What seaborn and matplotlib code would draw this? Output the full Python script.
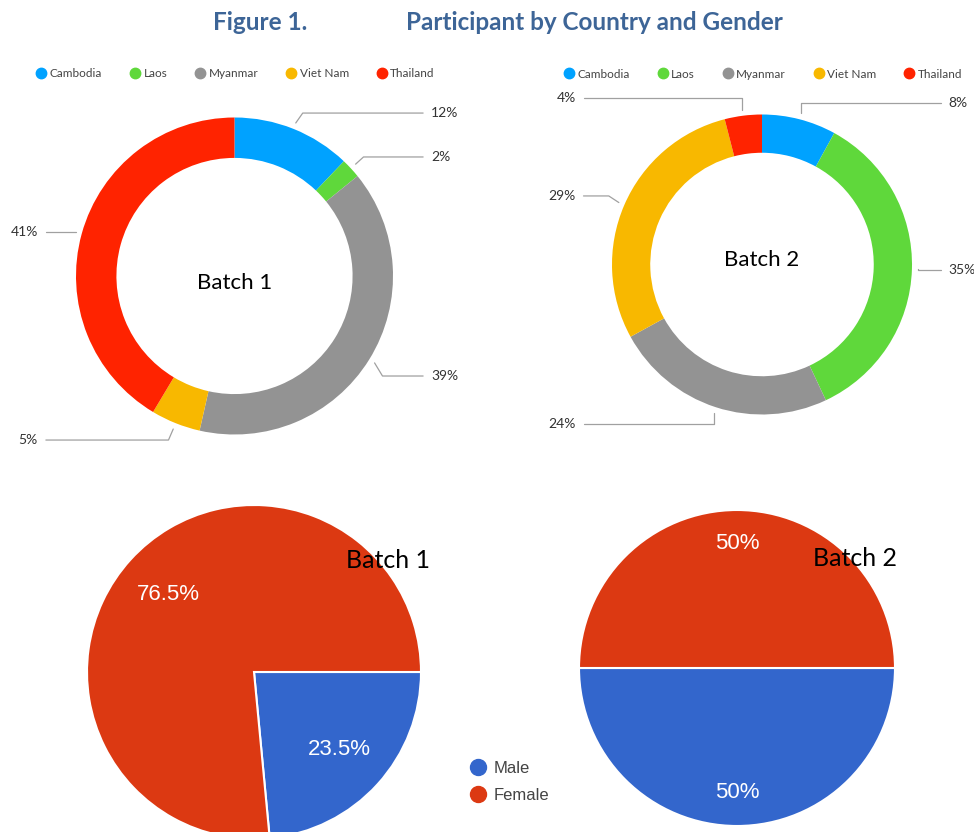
import numpy as np
import matplotlib.pyplot as plt
import seaborn as sns
from matplotlib.lines import Line2D

# data
countries = ['Cambodia', 'Laos', 'Myanmar', 'Viet Nam', 'Thailand']
batch1_country = [12, 2, 39, 5, 41]
batch2_country = [8, 35, 24, 29, 4]
country_colors = ['#00a2ff', '#5fd83b', '#939393', '#f8b800', '#ff2300']

genders = ['Male', 'Female']
batch1_gender = [23.5, 76.5]
batch2_gender = [50, 50]
gender_colors = ['#3366cc', '#dc3912']

# leader-line layout for the donut labels (data units, radius = 1)
b1_label_y = [1.028, 0.751, -0.631, -1.035, 0.278]
b1_elbow_dx = [0.044, 0.05, 0.05, -0.03, 0.0]
b1_side = [1, 1, 1, -1, -1]
b2_label_y = [1.077, -0.037, -1.063, 0.457, 1.11]
b2_elbow_dx = [0.0, 0.0, 0.0, -0.067, 0.0]
b2_side = [1, 1, -1, -1, -1]

sns.set_theme(style='white')
plt.rcParams['font.family'] = ['Lato', 'DejaVu Sans']

W, H = 974, 832
SPAN = 1.6
fig = plt.figure(figsize=(W / 100, H / 100), dpi=100)


def chart_ax(cx, cy, r):
    # square axes centred at pixel (cx, cy) where 1 data unit = r pixels
    size = 2 * SPAN * r
    return fig.add_axes([(cx - SPAN * r) / W, 1 - (cy + SPAN * r) / H, size / W, size / H])


def finish(ax):
    ax.set_xlim(-SPAN, SPAN)
    ax.set_ylim(-SPAN, SPAN)
    ax.set_aspect('equal')
    ax.axis('off')


def donut(ax, values, name, name_y, label_y, elbow_dx, side, legend_y):
    wedges, _ = ax.pie(values, colors=country_colors, startangle=90, counterclock=False,
                       radius=1, wedgeprops=dict(width=0.255, linewidth=0))
    for w, pct, ly, dx, s in zip(wedges, values, label_y, elbow_dx, side):
        ang = np.deg2rad((w.theta1 + w.theta2) / 2)
        x0, y0 = 1.04 * np.cos(ang), 1.04 * np.sin(ang)
        ax.plot([x0, x0 + dx, s * 1.19], [y0, ly, ly], color='#a0a0a0', lw=0.9)
        ax.text(s * 1.24, ly, f'{pct}%', ha='left' if s > 0 else 'right', va='center',
                fontsize=10, color='#333333')
    ax.text(0, name_y, name, ha='center', va='center', fontsize=16, color='black')
    handles = [Line2D([], [], marker='o', ls='', color=c, markersize=7.5) for c in country_colors]
    ax.legend(handles, countries, loc='center', bbox_to_anchor=(0, legend_y),
              bbox_transform=ax.transData, ncol=5, frameon=False, fontsize=8.5,
              handletextpad=0.1, columnspacing=2.2, handlelength=1.2, labelcolor='#444444')
    finish(ax)


def gender_pie(ax, values, name, name_xy, pctd):
    def fmt(p):
        return f'{p:.1f}'.rstrip('0').rstrip('.') + '%'
    ax.pie(values, colors=gender_colors, startangle=0, counterclock=False, radius=1,
           autopct=fmt, pctdistance=pctd,
           wedgeprops=dict(edgecolor='white', linewidth=1.5),
           textprops=dict(color='white', fontsize=16, family='Liberation Sans'))
    ax.text(name_xy[0], name_xy[1], name, ha='center', va='center', fontsize=18, color='black')
    finish(ax)


ax1 = chart_ax(234.5, 276, 158.5)
donut(ax1, batch1_country, 'Batch 1', -0.045, b1_label_y, b1_elbow_dx, b1_side, 1.277)

ax2 = chart_ax(762, 264.5, 150)
donut(ax2, batch2_country, 'Batch 2', 0.03, b2_label_y, b2_elbow_dx, b2_side, 1.27)

ax3 = chart_ax(254, 672, 167)
gender_pie(ax3, batch1_gender, 'Batch 1', (0.8, 0.67), 0.69)

ax4 = chart_ax(737, 668, 158)
gender_pie(ax4, batch2_gender, 'Batch 2', (0.75, 0.69), 0.79)

g_handles = [Line2D([], [], marker='o', ls='', color=c, markersize=11.5) for c in gender_colors]
fig.legend(g_handles, genders, loc='center left', bbox_to_anchor=(470 / W, 1 - 782 / H),
           frameon=False, prop=dict(family='Liberation Sans', size=12), labelcolor='#444444',
           handlelength=1.0, handletextpad=0.4, labelspacing=0.75, borderpad=0, borderaxespad=0)

title_color = '#3d6597'
fig.text(213 / W, 1 - 22 / H, 'Figure 1.', ha='left', va='center', fontsize=17.5,
         fontweight='bold', color=title_color)
fig.text(406 / W, 1 - 22 / H, 'Participant by Country and Gender', ha='left', va='center',
         fontsize=17.5, fontweight='bold', color=title_color)

fig.savefig('out.png', dpi=100)
